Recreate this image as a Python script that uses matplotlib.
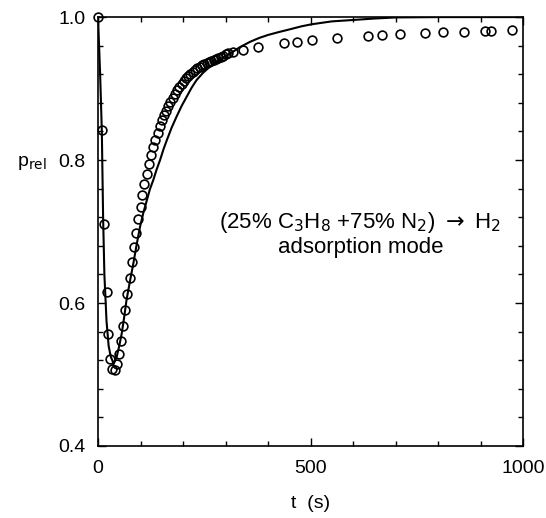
import matplotlib
matplotlib.use("Agg")
import matplotlib.pyplot as plt
from matplotlib.ticker import MultipleLocator

plt.rcParams['font.family'] = ['Liberation Sans', 'DejaVu Sans']

# measured points (open circles)
t_meas = [0, 10, 14, 20, 24, 28, 34, 39, 44, 49, 53, 58, 63, 69, 75, 79, 85, 89, 95, 100,
          104, 109, 115, 120, 125, 129, 135, 140, 145, 150, 155, 160, 165.5, 170, 175.7,
          181, 186, 191, 197, 202, 207, 212.5, 217, 223, 228, 234, 239, 245, 250, 256,
          261, 267, 272, 278, 283, 289, 294, 300, 305, 318, 340, 377, 438, 469, 503,
          562, 636, 669, 710, 769, 812, 860, 911, 925, 975]
p_meas = [1.0, 0.842, 0.71, 0.616, 0.556, 0.522, 0.508, 0.506, 0.515, 0.529, 0.547, 0.568,
          0.590, 0.612, 0.635, 0.657, 0.678, 0.698, 0.717, 0.734,
          0.751, 0.766, 0.780, 0.794, 0.807, 0.818, 0.828, 0.838, 0.848, 0.8555, 0.863,
          0.869, 0.8755, 0.8816, 0.8872, 0.8928, 0.898, 0.9026, 0.9068, 0.9105, 0.9142,
          0.9175, 0.9203, 0.9235, 0.9259, 0.9282, 0.9305, 0.9324, 0.9343, 0.9361, 0.9375,
          0.9389, 0.9403, 0.9417, 0.9431, 0.9445, 0.946, 0.9478, 0.9492, 0.9506, 0.9534,
          0.9585, 0.9638, 0.965, 0.9678, 0.9708, 0.9734, 0.9748, 0.9758, 0.9776, 0.9786,
          0.9795, 0.9804, 0.9804, 0.9814]

# model curve (solid line)
t_model = [0, 5, 9, 12, 15, 20, 25, 30, 37, 44, 50, 56, 62, 67, 75, 83, 91, 99, 107, 115,
           122, 130, 138, 146, 154, 162, 173, 185, 197, 209, 220, 232, 247, 263, 276, 290,
           311, 334, 358, 380, 400, 425, 452, 478, 503, 550, 601, 650, 700, 800, 1000]
p_model = [1.0, 0.92, 0.84, 0.72, 0.64, 0.575, 0.54, 0.525, 0.515, 0.525, 0.54, 0.558,
           0.582, 0.604, 0.630, 0.655, 0.682, 0.707, 0.727, 0.744, 0.759, 0.772, 0.787,
           0.80, 0.815, 0.828, 0.845, 0.861, 0.876, 0.889, 0.901, 0.912, 0.922, 0.9305,
           0.937, 0.942, 0.949, 0.958, 0.9655, 0.971, 0.975, 0.979, 0.983, 0.987, 0.990,
           0.994, 0.996, 0.998, 0.9995, 1.0, 1.0]

fig = plt.figure(figsize=(5.46, 5.18), dpi=100)
ax = fig.add_axes([0.1795, 0.139, 0.7785, 0.828])

ax.plot(t_model, p_model, color='black', lw=1.5, zorder=2)
ax.plot(t_meas, p_meas, linestyle='none', marker='o', markersize=6.3,
        markerfacecolor='none', markeredgecolor='black', markeredgewidth=1.2, zorder=3,
        clip_on=False)

ax.set_xlim(0, 1000)
ax.set_ylim(0.4, 1.0)
ax.xaxis.set_minor_locator(MultipleLocator(100))
ax.yaxis.set_minor_locator(MultipleLocator(0.04))
ax.set_xticks([0, 500, 1000], ['0', '500', '1000'])
ax.set_yticks([0.4, 0.6, 0.8, 1.0], ['0.4', '0.6', '0.8', '1.0'])

ax.tick_params(which='both', direction='in', top=True, right=True, labelsize=14,
               width=1.0)
ax.tick_params(which='major', length=6)
ax.tick_params(which='minor', length=3.5)
ax.tick_params(axis='x', which='major', pad=10)
ax.tick_params(axis='y', which='major', pad=9)

for s in ax.spines.values():
    s.set_linewidth(1.2)

ax.set_xlabel('t  (s)', fontsize=14, labelpad=13)
fig.text(0.058, 0.685, r'p$_{\rm rel}$', fontsize=14, ha='center', va='center')

ax.text(0.617, 0.495,
        '(25% C$_3$H$_8$ +75% N$_2$) $\\rightarrow$ H$_2$\nadsorption mode',
        transform=ax.transAxes, ha='center', va='center', fontsize=16,
        linespacing=1.12, math_fontfamily='dejavusans')

fig.savefig('out.png', dpi=100)
